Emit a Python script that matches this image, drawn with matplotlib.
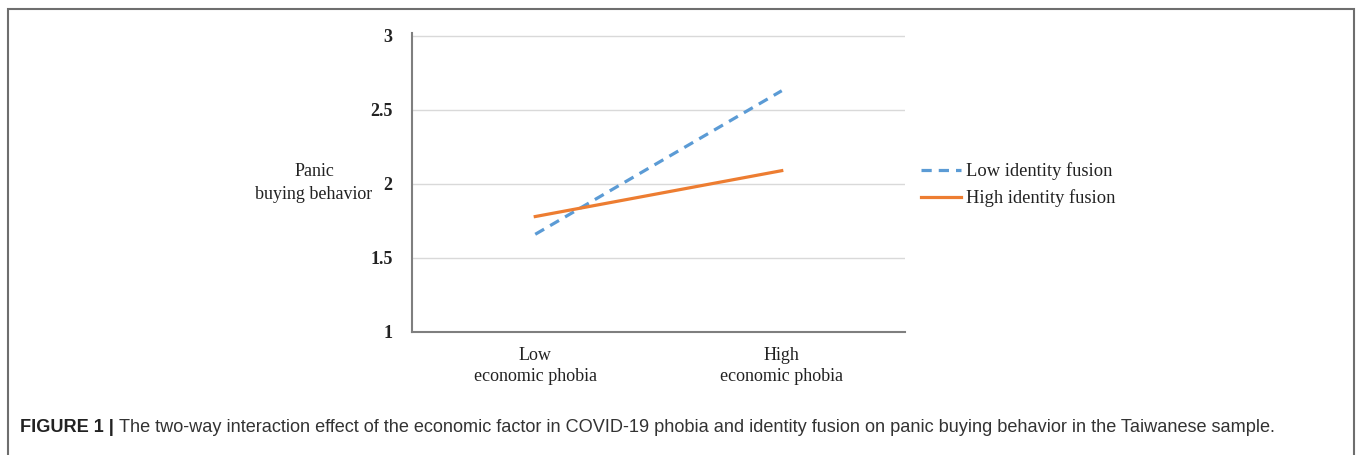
import matplotlib
matplotlib.use("Agg")
import matplotlib.pyplot as plt
from matplotlib import font_manager
from matplotlib.patches import Rectangle

# data
categories = ["Low\neconomic phobia", "High\neconomic phobia"]
low_fusion = [1.66, 2.63]
high_fusion = [1.78, 2.09]
y_ticks = [1, 1.5, 2, 2.5, 3]
y_tick_labels = ["1", "1.5", "2", "2.5", "3"]
series_names = ["Low identity fusion", "High identity fusion"]
caption_bold = "FIGURE 1 | "
caption_text = ("The two-way interaction effect of the economic factor in COVID-19 phobia "
                "and identity fusion on panic buying behavior in the Taiwanese sample.")

installed = {f.name for f in font_manager.fontManager.ttflist}
cap_font = "Liberation Sans Narrow" if "Liberation Sans Narrow" in installed else "Liberation Sans"
cap_size = 15 if cap_font == "Liberation Sans Narrow" else 13.1
serif = "Liberation Serif"

W, H = 1357, 455
fig = plt.figure(figsize=(W / 100, H / 100), dpi=100)

# outer frame of the figure panel
fig.patches.append(Rectangle((8 / W, -0.05), (1354 - 8) / W, 1.05 - 9.5 / H,
                             transform=fig.transFigure, fill=False,
                             edgecolor="#6e6e6e", linewidth=1.5))

ax = fig.add_axes([412 / W, 1 - 332 / H, (905 - 412) / W, (332 - 33) / H])
x = [0, 1]
ax.plot(x, low_fusion, color="#5b9bd5", linestyle=(0, (3.2, 2.2)), linewidth=2.3,
        label=series_names[0])
ax.plot(x, high_fusion, color="#ed7d31", linewidth=2.3, label=series_names[1])

ax.set_xlim(-0.5, 1.5)
ax.set_ylim(1, 3.02)
ax.set_yticks(y_ticks)
ax.set_yticklabels(y_tick_labels, fontfamily=serif, fontsize=13, fontweight="bold",
                   color="#222222")
ax.set_xticks(x)
ax.set_xticklabels(categories, fontfamily=serif, fontsize=13, color="#222222",
                   linespacing=1.25)
ax.tick_params(axis="both", length=0)
ax.tick_params(axis="y", pad=14)
ax.tick_params(axis="x", pad=11)
ax.grid(axis="y", color="#d9d9d9", linewidth=1)
ax.set_axisbelow(True)
for s in ["top", "right"]:
    ax.spines[s].set_visible(False)
for s in ["left", "bottom"]:
    ax.spines[s].set_color("#7f7f7f")
    ax.spines[s].set_linewidth(1.5)

fig.text(314 / W, 1 - 183 / H, "Panic\nbuying behavior", ha="center", va="center",
         fontfamily=serif, fontsize=13, color="#222222", linespacing=1.5)

ax.legend(loc="center left", bbox_to_anchor=(904 / W, 1 - 185 / H),
          bbox_transform=fig.transFigure, frameon=False,
          prop={"family": serif, "size": 13.3}, handlelength=2.2, handletextpad=0.25,
          labelspacing=0.5, labelcolor="#222222")

# caption, bold lead then regular text
t1 = fig.text(20 / W, 1 - 428 / H, caption_bold, fontfamily=cap_font, fontsize=cap_size,
              fontweight="bold", va="center", color="#222222")
fig.canvas.draw()
bb = t1.get_window_extent()
fig.text(bb.x1 / W, 1 - 428 / H, caption_text, fontfamily=cap_font, fontsize=cap_size,
         va="center", color="#333333")

fig.savefig("out.png", dpi=100)
